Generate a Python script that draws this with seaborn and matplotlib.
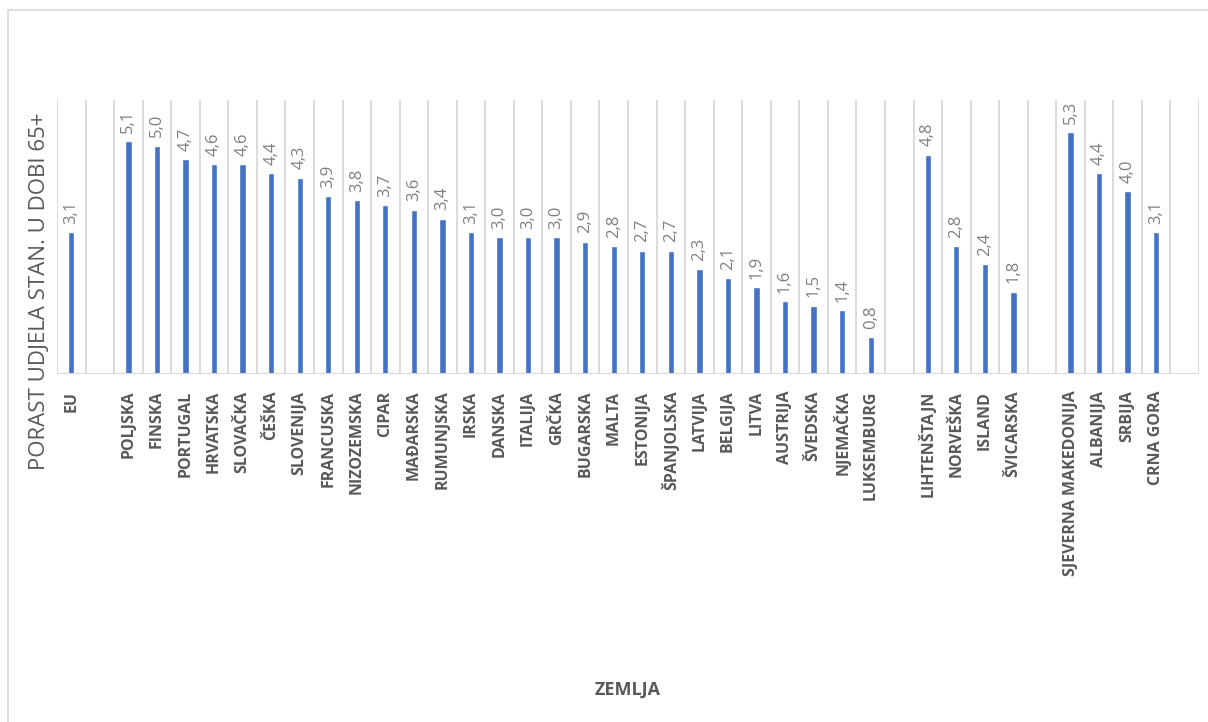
import pandas as pd
import matplotlib
matplotlib.use("Agg")
import matplotlib.pyplot as plt
import matplotlib.patches as patches
import seaborn as sns

# ======================
# DATA
# ======================

eu = ["EU"]
eu_values = [3.1]

eu_countries = ["POLJSKA", "FINSKA", "PORTUGAL", "HRVATSKA", "SLOVAČKA", "ČEŠKA",
                "SLOVENIJA", "FRANCUSKA", "NIZOZEMSKA", "CIPAR", "MAĐARSKA",
                "RUMUNJSKA", "IRSKA", "DANSKA", "ITALIJA", "GRČKA", "BUGARSKA",
                "MALTA", "ESTONIJA", "ŠPANJOLSKA", "LATVIJA", "BELGIJA", "LITVA",
                "AUSTRIJA", "ŠVEDSKA", "NJEMAČKA", "LUKSEMBURG"]
eu_country_values = [5.1, 5.0, 4.7, 4.6, 4.6, 4.4, 4.3, 3.9, 3.8, 3.7, 3.6, 3.4,
                     3.1, 3.0, 3.0, 3.0, 2.9, 2.8, 2.7, 2.7, 2.3, 2.1, 1.9, 1.6,
                     1.5, 1.4, 0.8]

efta = ["LIHTENŠTAJN", "NORVEŠKA", "ISLAND", "ŠVICARSKA"]
efta_values = [4.8, 2.8, 2.4, 1.8]

candidates = ["SJEVERNA MAKEDONIJA", "ALBANIJA", "SRBIJA", "CRNA GORA"]
candidate_values = [5.3, 4.4, 4.0, 3.1]

# prazna mjesta izmedu grupa
gaps = [" ", "  ", "   ", "    "]

df = pd.DataFrame({
    "zemlja": eu + eu_countries + efta + candidates,
    "porast": eu_values + eu_country_values + efta_values + candidate_values,
})

order = eu + [gaps[0]] + eu_countries + [gaps[1]] + efta + [gaps[2]] + candidates + [gaps[3]]

# ======================
# PLOT
# ======================

sns.set_style("white")
plt.rcParams["font.family"] = ["Open Sans", "DejaVu Sans"]

fig = plt.figure(figsize=(12.08, 7.22), dpi=100)
ax = fig.add_axes([57 / 1208, 1 - 374 / 722, (1199 - 57) / 1208, (374 - 100) / 722])

sns.barplot(data=df, x="zemlja", y="porast", order=order, color="#4472C4",
            width=0.22, saturation=1, ax=ax)

# oznake vrijednosti
labels = []
for z in order:
    v = df.loc[df["zemlja"] == z, "porast"]
    if len(v):
        labels.append(f"{v.iloc[0]:.1f}".replace(".", ","))
for cont in ax.containers:
    ax.bar_label(cont, labels=labels, rotation=90, padding=6,
                 fontsize=12, color="#7f7f7f")

n = len(order)
ax.set_xlim(-0.5, n - 0.5)
ax.set_ylim(0, 6)

# vertikalne linije izmedu kategorija
bounds = [i - 0.5 for i in range(n + 1)]
ax.vlines(bounds, 0, 6, color="#d9d9d9", lw=1.3, zorder=0)
ax.axhline(0, color="#d9d9d9", lw=1.5, zorder=1)
ax.set_xticks(bounds, minor=True)
ax.tick_params(axis="x", which="minor", length=6, color="#d9d9d9", width=1.3)
ax.tick_params(axis="x", which="major", length=0, pad=12)

for sp in ax.spines.values():
    sp.set_visible(False)

ax.set_yticks([])
ax.set_xticks(range(n))
ax.set_xticklabels(order, rotation=90, fontsize=11.5, fontweight="bold", color="#595959")
ax.set_xlabel("")
ax.set_ylabel("")

fig.text(40 / 1208, 1 - 291 / 722, "PORAST UDJELA STAN. U DOBI 65+", rotation=90,
         ha="center", va="center", fontsize=16, color="#595959")
fig.text(628 / 1208, 1 - 690 / 722, "ZEMLJA", ha="center", va="center",
         fontsize=13, fontweight="bold", color="#595959")

# okvir grafikona
fig.patches.append(patches.Rectangle((8 / 1208, -0.01), 1.0, 1 - 10 / 722 + 0.01,
                                     transform=fig.transFigure, fill=False,
                                     edgecolor="#d9d9d9", lw=1.2))

plt.savefig("out.png", dpi=100)
